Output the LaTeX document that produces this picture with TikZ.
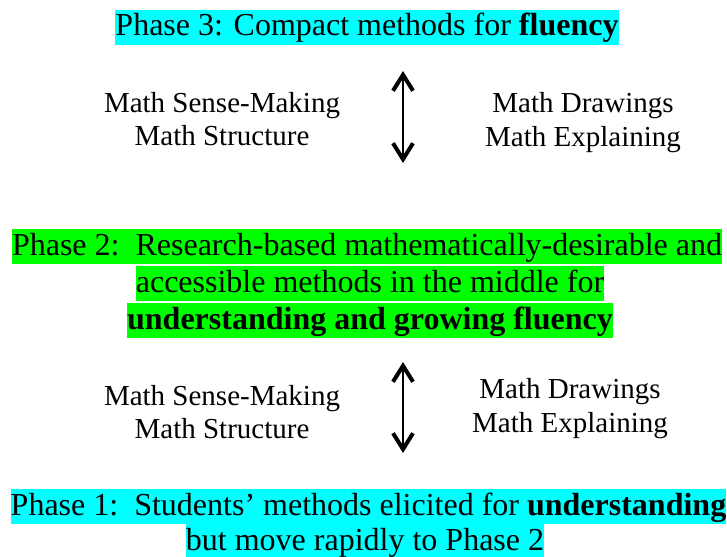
\documentclass[tikz,border=0pt]{standalone}
\usepackage{fontspec}
\setmainfont{Liberation Serif}
\usetikzlibrary{arrows.meta}
\definecolor{hlcyan}{RGB}{0,255,255}
\definecolor{hlgreen}{RGB}{0,255,0}
\tikzset{
  hl/.style={fill=#1, inner xsep=0pt, inner ysep=0pt, text height=26pt, text depth=9pt,
    font=\fontsize{32}{32}\selectfont, anchor=base},
  lbl/.style={inner sep=0pt, font=\fontsize{29}{29}\selectfont, anchor=base},
  dbl/.style={line width=2.5pt, {Straight Barb[length=16pt,width=20pt,line width=4pt]}-{Straight Barb[length=16pt,width=20pt,line width=4pt]}}
}
\begin{document}
\begin{tikzpicture}[x=1pt,y=-1pt]
\useasboundingbox (0,0) rectangle (727,556);
% Phase 3
\node[hl=hlcyan] (p3) at (367,36) {Phase 3: Compact methods for \textbf{fluency}};
% upper labels
\node[lbl] (l1a) at (222,113) {Math Sense-Making};
\node[lbl] (l1b) at (222,146) {Math Structure};
\node[lbl] (r1a) at (583,113) {Math Drawings};
\node[lbl] (r1b) at (583,147) {Math Explaining};
\coordinate (a1t) at (403,71);
\coordinate (a1b) at (403,163);
\draw[dbl] (a1t) -- (a1b);
% Phase 2
\node[hl=hlgreen] (p2a) at (367,255) {Phase 2:\ \ Research-based mathematically-desirable and};
\node[hl=hlgreen] (p2b) at (370,292) {accessible methods in the middle for};
\node[hl=hlgreen] (p2c) at (370,329) {\textbf{understanding and growing fluency}};
% lower labels
\node[lbl] (l2a) at (222,405) {Math Sense-Making};
\node[lbl] (l2b) at (222,438) {Math Structure};
\node[lbl] (r2a) at (570,398) {Math Drawings};
\node[lbl] (r2b) at (570,432) {Math Explaining};
\coordinate (a2t) at (403,362);
\coordinate (a2b) at (403,453);
\draw[dbl] (a2t) -- (a2b);
% Phase 1
\node[hl=hlcyan] (p1a) at (368.5,515) {Phase 1:\ \ Students' methods elicited for \textbf{understanding}};
\node[hl=hlcyan] (p1b) at (365,550) {but move rapidly to Phase 2};
\end{tikzpicture}
\end{document}
